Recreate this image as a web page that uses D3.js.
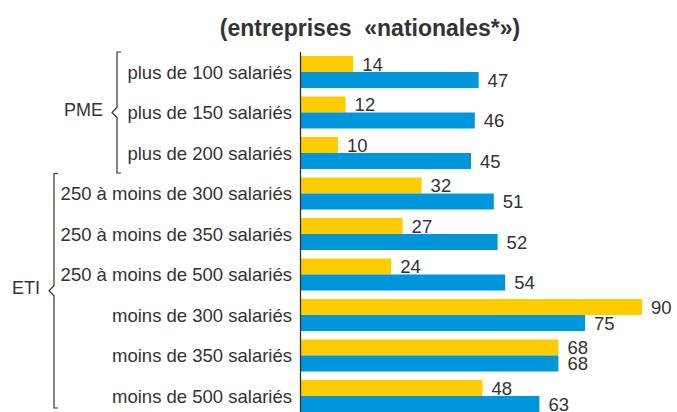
<!DOCTYPE html>
<html>
<head>
<meta charset="utf-8">
<script src="https://cdn.jsdelivr.net/npm/d3@7"></script>
<style>
  body { margin: 0; background: white; }
  text { font-family: "Liberation Sans", Arial, sans-serif; fill: #333; }
</style>
</head>
<body>
<div id="chart"></div>
<script>
var categories = [
  "plus de 100 salariés",
  "plus de 150 salariés",
  "plus de 200 salariés",
  "250 à moins de 300 salariés",
  "250 à moins de 350 salariés",
  "250 à moins de 500 salariés",
  "moins de 300 salariés",
  "moins de 350 salariés",
  "moins de 500 salariés"
];
var jaune = [14, 12, 10, 32, 27, 24, 90, 68, 48];
var bleu = [47, 46, 45, 51, 52, 54, 75, 68, 63];
var groupes = [
  { nom: "PME", debut: 0, fin: 2 },
  { nom: "ETI", debut: 3, fin: 8 }
];
var titre = "(entreprises  «nationales*»)";

var width = 677, height = 412;

var svg = d3.select("#chart")
  .append("svg")
  .attr("width", width)
  .attr("height", height);

var xscale = d3.scaleLinear()
  .domain([0, 100])
  .range([300, 680]);

var yscale = d3.scaleBand()
  .domain(categories)
  .range([56, 412])
  .paddingInner(0.21)
  .paddingOuter(0);

var bh = yscale.bandwidth() / 2;

svg.append("text")
  .attr("x", 370)
  .attr("y", 36)
  .attr("text-anchor", "middle")
  .style("font-weight", "bold")
  .style("font-size", "23px")
  .style("white-space", "pre")
  .text(titre);

// barres jaunes
svg.append("g").selectAll("rect")
  .data(jaune)
  .enter().append("rect")
  .attr("x", xscale(0))
  .attr("y", (d, i) => yscale(categories[i]))
  .attr("width", d => xscale(d) - xscale(0))
  .attr("height", bh)
  .attr("fill", "#ffcc00");

// barres bleues
svg.append("g").selectAll("rect")
  .data(bleu)
  .enter().append("rect")
  .attr("x", xscale(0))
  .attr("y", (d, i) => yscale(categories[i]) + bh)
  .attr("width", d => xscale(d) - xscale(0))
  .attr("height", bh)
  .attr("fill", "#0096db");

// valeurs
svg.append("g").selectAll("text")
  .data(jaune)
  .enter().append("text")
  .attr("x", d => xscale(d) + 9)
  .attr("y", (d, i) => yscale(categories[i]) + bh / 2)
  .attr("dy", "0.36em")
  .style("font-size", "18.5px")
  .text(d => d);

svg.append("g").selectAll("text")
  .data(bleu)
  .enter().append("text")
  .attr("x", d => xscale(d) + 9)
  .attr("y", (d, i) => yscale(categories[i]) + bh * 1.5)
  .attr("dy", "0.36em")
  .style("font-size", "18.5px")
  .text(d => d);

// libelles
svg.append("g").selectAll("text")
  .data(categories)
  .enter().append("text")
  .attr("x", 292)
  .attr("y", d => yscale(d) + bh)
  .attr("dy", "0.36em")
  .attr("text-anchor", "end")
  .style("font-size", "18.5px")
  .text(d => d);

// axe
svg.append("line")
  .attr("x1", xscale(0) + 0.5)
  .attr("x2", xscale(0) + 0.5)
  .attr("y1", 52)
  .attr("y2", 412)
  .attr("stroke", "#333")
  .attr("stroke-width", 1.3);

// accolades
var accX = [117, 54];
groupes.forEach(function (g, k) {
  var y0 = yscale(categories[g.debut]) - 4;
  var y1 = yscale(categories[g.fin]) + yscale.bandwidth() + (k == 1 ? -4 : 4);
  var ym = (y0 + y1) / 2;
  var x = accX[k];
  svg.append("path")
    .attr("d", "M" + (x + 4) + "," + y0 + "L" + x + "," + y0 + "L" + x + "," + (ym - 5) +
      "L" + (x - 5) + "," + ym + "L" + x + "," + (ym + 5) + "L" + x + "," + y1 + "L" + (x + 4) + "," + y1)
    .attr("fill", "none")
    .attr("stroke", "#333")
    .attr("stroke-width", 1.2);
  svg.append("text")
    .attr("x", x - 14)
    .attr("y", ym - 3)
    .attr("dy", "0.36em")
    .attr("text-anchor", "end")
    .style("font-size", "18px")
    .text(g.nom);
});
</script>
</body>
</html>
